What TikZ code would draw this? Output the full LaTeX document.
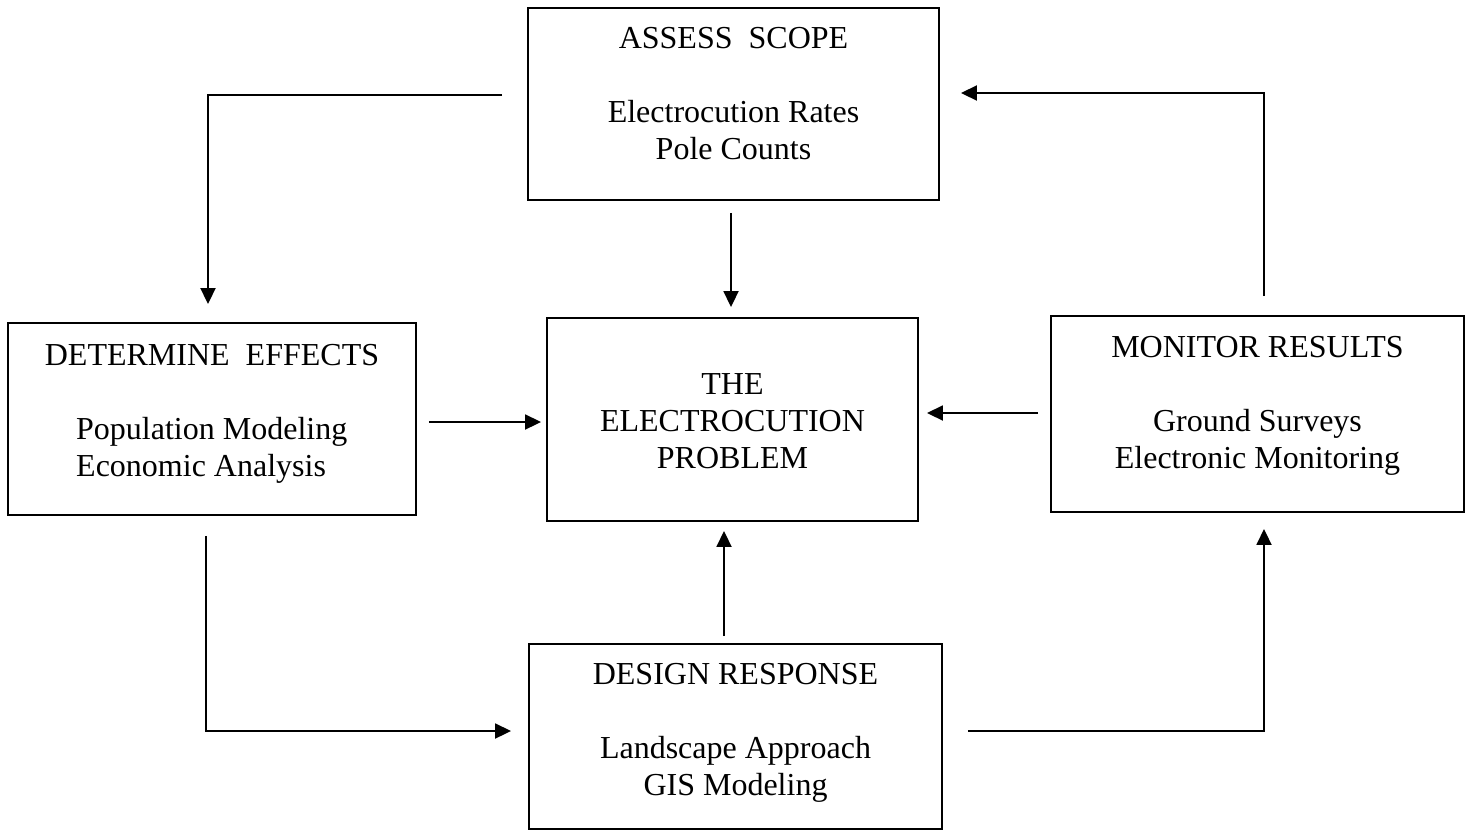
\documentclass[tikz,border=0pt]{standalone}
\usepackage{fontspec}
\setmainfont{Liberation Serif}
\usetikzlibrary{arrows.meta}
\begin{document}
\begin{tikzpicture}[x=1pt,y=-1pt,
  box/.style={draw=black, line width=1.9pt, inner sep=0pt, rectangle},
  txt/.style={inner sep=0pt, font=\fontsize{32}{37}\selectfont},
  arr/.style={line width=1.9pt, -{Triangle[length=16pt,width=15pt]}}]
\useasboundingbox (0,0) rectangle (1471,831);
% boxes
\node[box, minimum width=411pt, minimum height=192pt] (assess) at (733.5,104) {};
\node[box, minimum width=408pt, minimum height=192pt] (det) at (212,419) {};
\node[box, minimum width=371pt, minimum height=203pt] (elec) at (732.5,419.5) {};
\node[box, minimum width=413pt, minimum height=196pt] (mon) at (1257.5,414) {};
\node[box, minimum width=413pt, minimum height=185pt] (des) at (735.5,736.5) {};
% texts
\node[txt, anchor=base] (assessT) at (733.5,48) {\begin{tabular}[t]{@{}c@{}}ASSESS\ \ SCOPE\\ \\ Electrocution Rates\\ Pole Counts\end{tabular}};
\node[txt, anchor=base] (detT) at (212,365) {DETERMINE\ \ EFFECTS};
\node[txt, anchor=base west] (detB) at (76,439) {\begin{tabular}[t]{@{}l@{}}Population Modeling\\ Economic Analysis\end{tabular}};
\node[txt, anchor=base] (elecT) at (732.5,394) {\begin{tabular}[t]{@{}c@{}}THE\\ ELECTROCUTION\\ PROBLEM\end{tabular}};
\node[txt, anchor=base] (monT) at (1257.5,357) {\begin{tabular}[t]{@{}c@{}}MONITOR RESULTS\\ \\ Ground Surveys\\ Electronic Monitoring\end{tabular}};
\node[txt, anchor=base] (desT) at (735.5,684) {\begin{tabular}[t]{@{}c@{}}DESIGN RESPONSE\\ \\ Landscape Approach\\ GIS Modeling\end{tabular}};
% connectors
\draw[arr, shorten <=25pt, shorten >=18pt] ([yshift=9pt]assess.west) -| ([xshift=-4pt]det.north);
\draw[arr, shorten <=12pt, shorten >=10pt] ([xshift=-2.5pt]assess.south) -- ([xshift=-2.5pt]assess.south |- elec.north);
\draw[arr, shorten <=12pt, shorten >=5pt] ([yshift=-3pt]det.east) -- ([yshift=-3pt]det.east -| elec.west);
\draw[arr, shorten <=12pt, shorten >=8pt] ([yshift=1pt]mon.west) -- ([yshift=1pt]mon.west -| elec.east);
\draw[arr, shorten <=7pt, shorten >=9pt] ([xshift=-11.5pt]des.north) -- ([xshift=-11.5pt]des.north |- elec.south);
\draw[arr, shorten <=20pt, shorten >=17pt] ([xshift=-6pt]det.south) |- ([yshift=5.5pt]des.west);
\draw[arr, shorten <=25pt, shorten >=16pt] ([yshift=5.5pt]des.east) -| ([xshift=6.5pt]mon.south);
\draw[arr, shorten <=19pt, shorten >=21pt] ([xshift=6.5pt]mon.north) |- ([yshift=11pt]assess.east);
\end{tikzpicture}
\end{document}
